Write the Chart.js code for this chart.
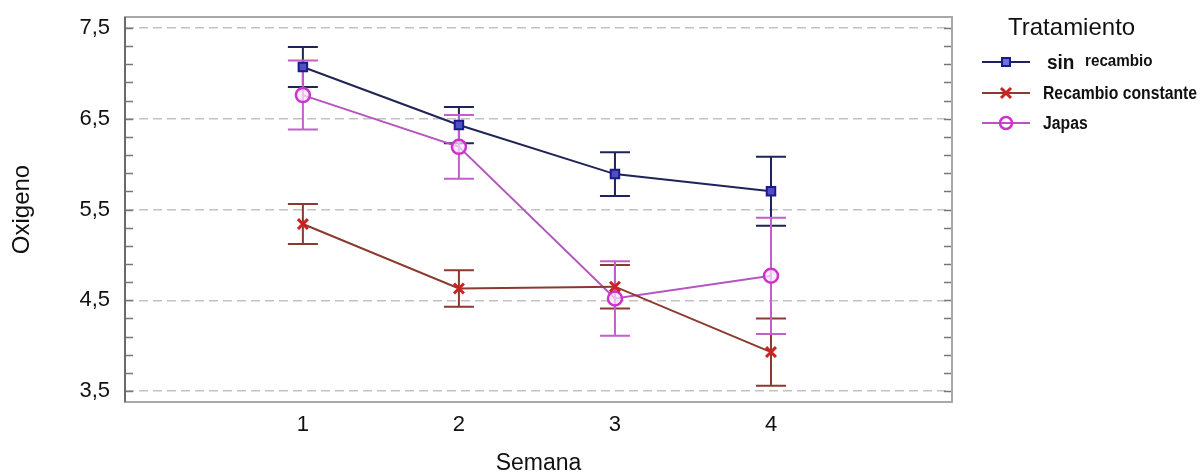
<!DOCTYPE html>
<html lang="es">
<head>
<meta charset="UTF-8">
<title>Oxigeno por semana</title>
<script src="https://cdn.jsdelivr.net/npm/chart.js"></script>
<style>
    body {
        margin: 0;
        background: #fff;
        font-family: Arial, 'Liberation Sans', sans-serif;
    }
    #wrap {
        position: relative;
        width: 1201px;
        height: 475px;
    }
    #legendTitle {
        position: absolute;
        left: 1008px;
        top: 15px;
        font-size: 24px;
        line-height: 24px;
        color: #111;
    }
    .item {
        position: absolute;
        left: 982px;
        height: 20px;
        display: flex;
        align-items: center;
        white-space: nowrap;
    }
    .item svg { margin-right: 13px; }
    .item span {
        font-weight: bold;
        font-size: 18px;
        color: #111;
        display: inline-block;
        transform: scaleX(0.875);
        transform-origin: left center;
    }
    .item span.sin { font-size: 20px; transform: scaleX(0.95); margin-left: 4px; }
    .item span small { font-size: 16px; vertical-align: 3px; }
</style>
</head>
<body>
<div id="wrap">
    <canvas id="chart" width="1201" height="475"></canvas>
    <div id="legendTitle">Tratamiento</div>
    <div class="item" style="top:52px">
        <svg width="48" height="20"><line x1="0" y1="10" x2="48" y2="10" stroke="#1f2457" stroke-width="2"/><rect x="20" y="6" width="8" height="8" fill="#7070d0" stroke="#1a1a90" stroke-width="2"/></svg>
        <span class="sin">sin&nbsp; <small>recambio</small></span>
    </div>
    <div class="item" style="top:83px">
        <svg width="48" height="20"><line x1="0" y1="10" x2="48" y2="10" stroke="#8b3a30" stroke-width="2"/><line x1="19" y1="5" x2="29" y2="15" stroke="#cc2222" stroke-width="3"/><line x1="29" y1="5" x2="19" y2="15" stroke="#cc2222" stroke-width="3"/></svg>
        <span>Recambio constante</span>
    </div>
    <div class="item" style="top:113px">
        <svg width="48" height="20"><line x1="0" y1="10" x2="48" y2="10" stroke="#b455c0" stroke-width="2"/><circle cx="24" cy="10" r="6" fill="none" stroke="#cc33cc" stroke-width="2.5"/></svg>
        <span>Japas</span>
    </div>
</div>
<script>
    // datos
    const weeks = [1, 2, 3, 4];
    const sinRecambio = [7.07, 6.43, 5.89, 5.70];
    const sinRecambioErr = [0.22, 0.20, 0.24, 0.38];
    const recambioConstante = [5.34, 4.63, 4.65, 3.93];
    const recambioConstanteErr = [0.22, 0.20, 0.24, 0.37];
    const japas = [6.76, 6.19, 4.52, 4.77];
    const japasErr = [0.38, 0.35, 0.41, 0.64];

    const yMajor = [3.5, 4.5, 5.5, 6.5, 7.5];
    const yLabels = ['3,5', '4,5', '5,5', '6,5', '7,5'];
    const xLabels = ['1', '2', '3', '4'];

    // marcas menores cada 0,2
    const yMinor = [];
    for (let k = 0; k <= 20; k++) yMinor.push(Math.round((3.5 + 0.2 * k) * 10) / 10);

    function majorIndex(v) {
        return yMajor.findIndex(m => Math.abs(m - v) < 1e-6);
    }

    function points(vals) {
        return vals.map((v, i) => ({ x: weeks[i], y: v }));
    }

    // barras de error y marco del grafico
    const extras = {
        id: 'extras',
        beforeDatasetsDraw(chart) {
            const { ctx, scales: { x, y } } = chart;
            ctx.save();
            chart.data.datasets.forEach(ds => {
                ctx.strokeStyle = ds.errColor;
                ctx.lineWidth = 2;
                ds.means.forEach((m, i) => {
                    const px = x.getPixelForValue(weeks[i]);
                    const hi = y.getPixelForValue(m + ds.errors[i]);
                    const lo = y.getPixelForValue(m - ds.errors[i]);
                    ctx.beginPath();
                    ctx.moveTo(px, hi); ctx.lineTo(px, lo);
                    ctx.moveTo(px - 15, hi); ctx.lineTo(px + 15, hi);
                    ctx.moveTo(px - 15, lo); ctx.lineTo(px + 15, lo);
                    ctx.stroke();
                });
            });
            ctx.restore();
        },
        afterDraw(chart) {
            const { ctx, chartArea: a, scales: { y } } = chart;
            ctx.save();
            ctx.strokeStyle = '#777';
            ctx.lineWidth = 1.5;
            yMinor.forEach(v => {
                const py = Math.round(y.getPixelForValue(v)) + 0.5;
                ctx.beginPath();
                ctx.moveTo(a.left, py); ctx.lineTo(a.left + 8, py);
                ctx.moveTo(a.right, py); ctx.lineTo(a.right - 8, py);
                ctx.stroke();
            });
            ctx.lineWidth = 2;
            ctx.strokeStyle = '#a8a8a8';
            ctx.strokeRect(a.left, a.top, a.right - a.left, a.bottom - a.top);
            ctx.strokeStyle = '#6a6a6a';
            ctx.beginPath();
            ctx.moveTo(a.left, a.top); ctx.lineTo(a.left, a.bottom);
            ctx.stroke();
            ctx.restore();
        }
    };

    const tickFont = { family: "Arial, 'Liberation Sans', sans-serif", size: 22 };

    new Chart(document.getElementById('chart'), {
        type: 'line',
        data: {
            datasets: [
                {
                    label: 'sin recambio',
                    data: points(sinRecambio),
                    means: sinRecambio,
                    errors: sinRecambioErr,
                    errColor: '#1f2457',
                    borderColor: '#1f2457',
                    borderWidth: 2,
                    pointStyle: 'rect',
                    pointRadius: 6,
                    pointBackgroundColor: '#5050c0',
                    pointBorderColor: '#1a1a90',
                    pointBorderWidth: 2
                },
                {
                    label: 'Recambio constante',
                    data: points(recambioConstante),
                    means: recambioConstante,
                    errors: recambioConstanteErr,
                    errColor: '#8b3a30',
                    borderColor: '#8b3a30',
                    borderWidth: 2,
                    pointStyle: 'crossRot',
                    pointRadius: 7,
                    pointBorderColor: '#cc2222',
                    pointBorderWidth: 3
                },
                {
                    label: 'Japas',
                    data: points(japas),
                    means: japas,
                    errors: japasErr,
                    errColor: '#c060c8',
                    borderColor: '#b455c0',
                    borderWidth: 2,
                    pointStyle: 'circle',
                    pointRadius: 7,
                    pointBackgroundColor: 'rgba(255,230,255,0.7)',
                    pointBorderColor: '#cc33cc',
                    pointBorderWidth: 2.5
                }
            ]
        },
        options: {
            responsive: false,
            animation: false,
            layout: { padding: { top: 17, right: 249, left: 0, bottom: 0 } },
            plugins: { legend: { display: false }, tooltip: { enabled: false } },
            scales: {
                x: {
                    type: 'linear',
                    min: -0.14,
                    max: 5.16,
                    afterBuildTicks: s => { s.ticks = weeks.map(v => ({ value: v })); },
                    afterFit: s => { s.height = 73; s.paddingLeft = 0; s.paddingRight = 0; },
                    grid: { display: false, drawTicks: false },
                    border: { display: false },
                    ticks: {
                        autoSkip: false,
                        maxRotation: 0,
                        padding: 10,
                        color: '#111',
                        font: tickFont,
                        callback: (v) => xLabels[weeks.indexOf(v)] ?? ''
                    },
                    title: {
                        display: true,
                        text: 'Semana',
                        color: '#111',
                        font: { family: "Arial, 'Liberation Sans', sans-serif", size: 23 },
                        padding: { top: 0, bottom: -2 }
                    }
                },
                y: {
                    min: 3.38,
                    max: 7.62,
                    afterBuildTicks: s => { s.ticks = yMinor.map(v => ({ value: v })); },
                    afterFit: s => { s.width = 125; s.paddingTop = 0; s.paddingBottom = 0; },
                    grid: {
                        drawTicks: false,
                        lineWidth: 1.5,
                        color: c => majorIndex(c.tick.value) >= 0 ? '#c2c2c2' : 'rgba(0,0,0,0)'
                    },
                    border: { display: false, dash: [9, 5] },
                    ticks: {
                        autoSkip: false,
                        padding: 15,
                        color: '#111',
                        font: tickFont,
                        callback: (v) => {
                            const i = majorIndex(v);
                            return i >= 0 ? yLabels[i] : '';
                        }
                    },
                    title: {
                        display: true,
                        text: 'Oxigeno',
                        color: '#111',
                        font: { family: "Arial, 'Liberation Sans', sans-serif", size: 24 },
                        padding: { top: 8, bottom: 0 }
                    }
                }
            }
        },
        plugins: [extras]
    });
</script>
</body>
</html>
